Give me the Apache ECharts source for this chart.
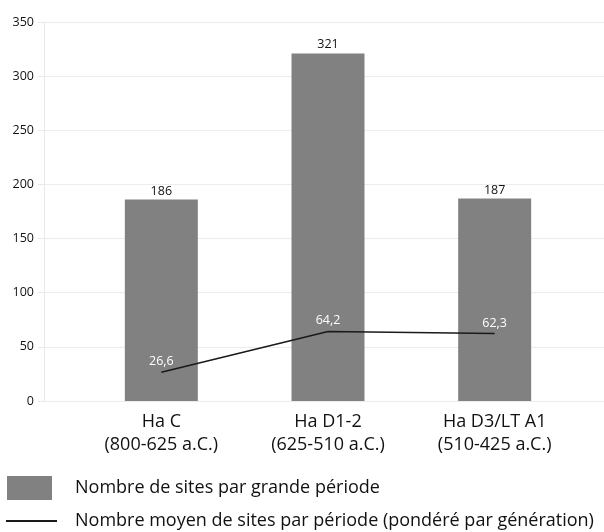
<!DOCTYPE html>
<html><head><meta charset="utf-8">
<script src="https://cdn.jsdelivr.net/npm/echarts@6/dist/echarts.min.js"></script>
<style>html,body{margin:0;padding:0;background:#fff}#c{width:604px;height:532px}</style>
</head><body><div id="c"></div>
<script>
const categories = ['Ha C\n(800-625 a.C.)', 'Ha D1-2\n(625-510 a.C.)', 'Ha D3/LT A1\n(510-425 a.C.)'];
const barValues = [186, 321, 187];
const lineValues = [26.6, 64.2, 62.3];
const barName = 'Nombre de sites par grande période';
const lineName = 'Nombre moyen de sites par période (pondéré par génération)';
const yTicks = { min: 0, max: 350, interval: 50 };
const FONT = '"Open Sans", sans-serif';

const chart = echarts.init(document.getElementById('c'), null, {renderer: 'canvas'});
chart.setOption({
  animation: false,
  backgroundColor: '#fff',
  textStyle: { fontFamily: FONT },
  grid: [
    { left: 44, right: 0, top: 22, bottom: 131 },
    { left: 78, right: 26, top: 22, bottom: 131 }
  ],
  xAxis: [
    { gridIndex: 0, type: 'category', data: ['', ''], show: false },
    { gridIndex: 1, type: 'category', data: categories,
      axisLine: { show: false }, axisTick: { show: false },
      axisLabel: { color: '#111', fontSize: 18, lineHeight: 23, margin: 9, fontFamily: FONT } }
  ],
  yAxis: [
    { gridIndex: 0, type: 'value', min: yTicks.min, max: yTicks.max, interval: yTicks.interval,
      axisLine: { show: true, lineStyle: { color: '#e8e8e8', width: 1 } },
      axisTick: { show: true, length: 6, lineStyle: { color: '#e8e8e8' } },
      splitLine: { show: true, lineStyle: { color: '#ececec', width: 1 } },
      axisLabel: { color: '#111', fontSize: 12.5, margin: 10, fontFamily: FONT } },
    { gridIndex: 1, type: 'value', min: yTicks.min, max: yTicks.max, interval: yTicks.interval, show: false,
      splitLine: { show: false } }
  ],
  legend: [
    { left: 7, top: 476, padding: 0, itemWidth: 45, itemHeight: 24, selectedMode: false,
      textStyle: { color: '#111', fontSize: 18, fontFamily: FONT, padding: [0,0,0,18] },
      data: [{ name: barName, icon: 'rect' }] },
    { left: 6, top: 512, padding: 0, itemWidth: 51, itemHeight: 2, selectedMode: false,
      textStyle: { color: '#111', fontSize: 18, fontFamily: FONT, padding: [0,0,0,13] },
      data: [{ name: lineName, icon: 'rect', itemStyle: { color: '#1a1a1a' } }] }
  ],
  series: [
    { name: barName, type: 'bar', xAxisIndex: 1, yAxisIndex: 1, data: barValues, barWidth: 73,
      itemStyle: { color: '#818181' },
      label: { show: true, position: 'top', distance: 2, color: '#111', fontSize: 12.5, fontFamily: FONT } },
    { name: lineName, type: 'line', xAxisIndex: 1, yAxisIndex: 1, data: lineValues,
      symbol: 'circle', symbolSize: 0.1, showSymbol: true,
      lineStyle: { color: '#1a1a1a', width: 1.6 }, itemStyle: { color: '#1a1a1a' },
      label: { show: true, position: 'top', distance: 4, color: '#fff', fontSize: 12.5, fontFamily: FONT,
        formatter: p => String(p.value).replace('.', ',') } }
  ]
});
</script></body></html>
